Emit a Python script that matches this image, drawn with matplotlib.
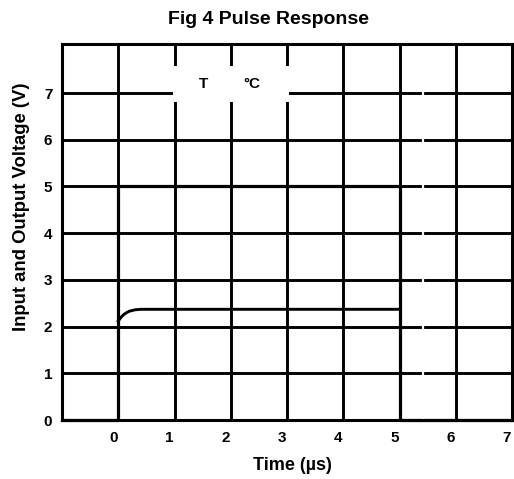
import matplotlib
matplotlib.use("Agg")
import matplotlib.pyplot as plt
import matplotlib.transforms as mtransforms

# ----- Data -----------------------------------------------------------------
input_t = [-1.0, 0.0, 0.0, 5.0, 5.0, 7.0]          # µs
input_v = [0.0, 0.0, 5.0, 5.0, 0.0, 0.0]           # V
output_t = [0.0, 0.05, 0.1, 0.15, 0.2, 0.3, 0.4, 5.0]
output_v = [2.12, 2.2, 2.26, 2.3, 2.33, 2.36, 2.37, 2.37]
x_ticks = [0, 1, 2, 3, 4, 5, 6, 7]
y_ticks = [0, 1, 2, 3, 4, 5, 6, 7]

plt.rcParams["font.family"] = ["Liberation Sans", "DejaVu Sans"]
plt.rcParams["font.weight"] = "bold"

fig = plt.figure(figsize=(5.14, 4.79), dpi=100)
ax = fig.add_axes([62 / 514, 59 / 479, 450 / 514, 376 / 479])
ax.set_xlim(-1, 7)
ax.set_ylim(0, 8.05)

# grid drawn as plain black lines, like the scanned scope graticule
for x in x_ticks:
    ax.axvline(x, color="black", lw=2.1, zorder=1)
for y in y_ticks[1:]:
    ax.axhline(y, color="black", lw=2.1, zorder=1)

ax.plot(input_t, input_v, color="black", lw=2.3, zorder=3, clip_on=False)
ax.plot(output_t, output_v, color="black", lw=2.1, zorder=3)

# break in the horizontal lines and the "T  °C" label patch
ax.axvline(5.42, color="white", lw=1.6, zorder=4, clip_on=False)
ax.fill_between([0.97, 3.03], 6.8, 7.58, color="white", lw=0, zorder=4)
ax.text(1.52, 7.2, "T", ha="center", va="center", fontsize=11,
        fontweight="bold", zorder=5)
ax.text(2.38, 7.2, "°C", ha="center", va="center", fontsize=11,
        fontweight="bold", zorder=5)

for side in ax.spines.values():
    side.set_linewidth(2.2)
    side.set_zorder(6)

ax.set_xticks(x_ticks)
ax.set_yticks(y_ticks)
ax.tick_params(length=0, labelsize=11)
ax.tick_params(axis="x", pad=8)
ax.tick_params(axis="y", pad=7)
shift = mtransforms.ScaledTranslation(-5 / 100, 0, fig.dpi_scale_trans)
for lbl in ax.get_xticklabels():
    lbl.set_transform(lbl.get_transform() + shift)

fig.text(292 / 514, 1 - 466 / 479, "Time (µs)", ha="center", va="center",
         fontsize=13, fontweight="bold")
fig.text(22 / 514, 1 - 207 / 479, "Input and Output Voltage (V)",
         ha="center", va="center", rotation=90, fontsize=13.3,
         fontweight="bold")
fig.text(269 / 514, 1 - 19 / 479, "Fig 4 Pulse Response", ha="center",
         va="center", fontsize=14, fontweight="bold")

fig.savefig("out.png", dpi=100)
